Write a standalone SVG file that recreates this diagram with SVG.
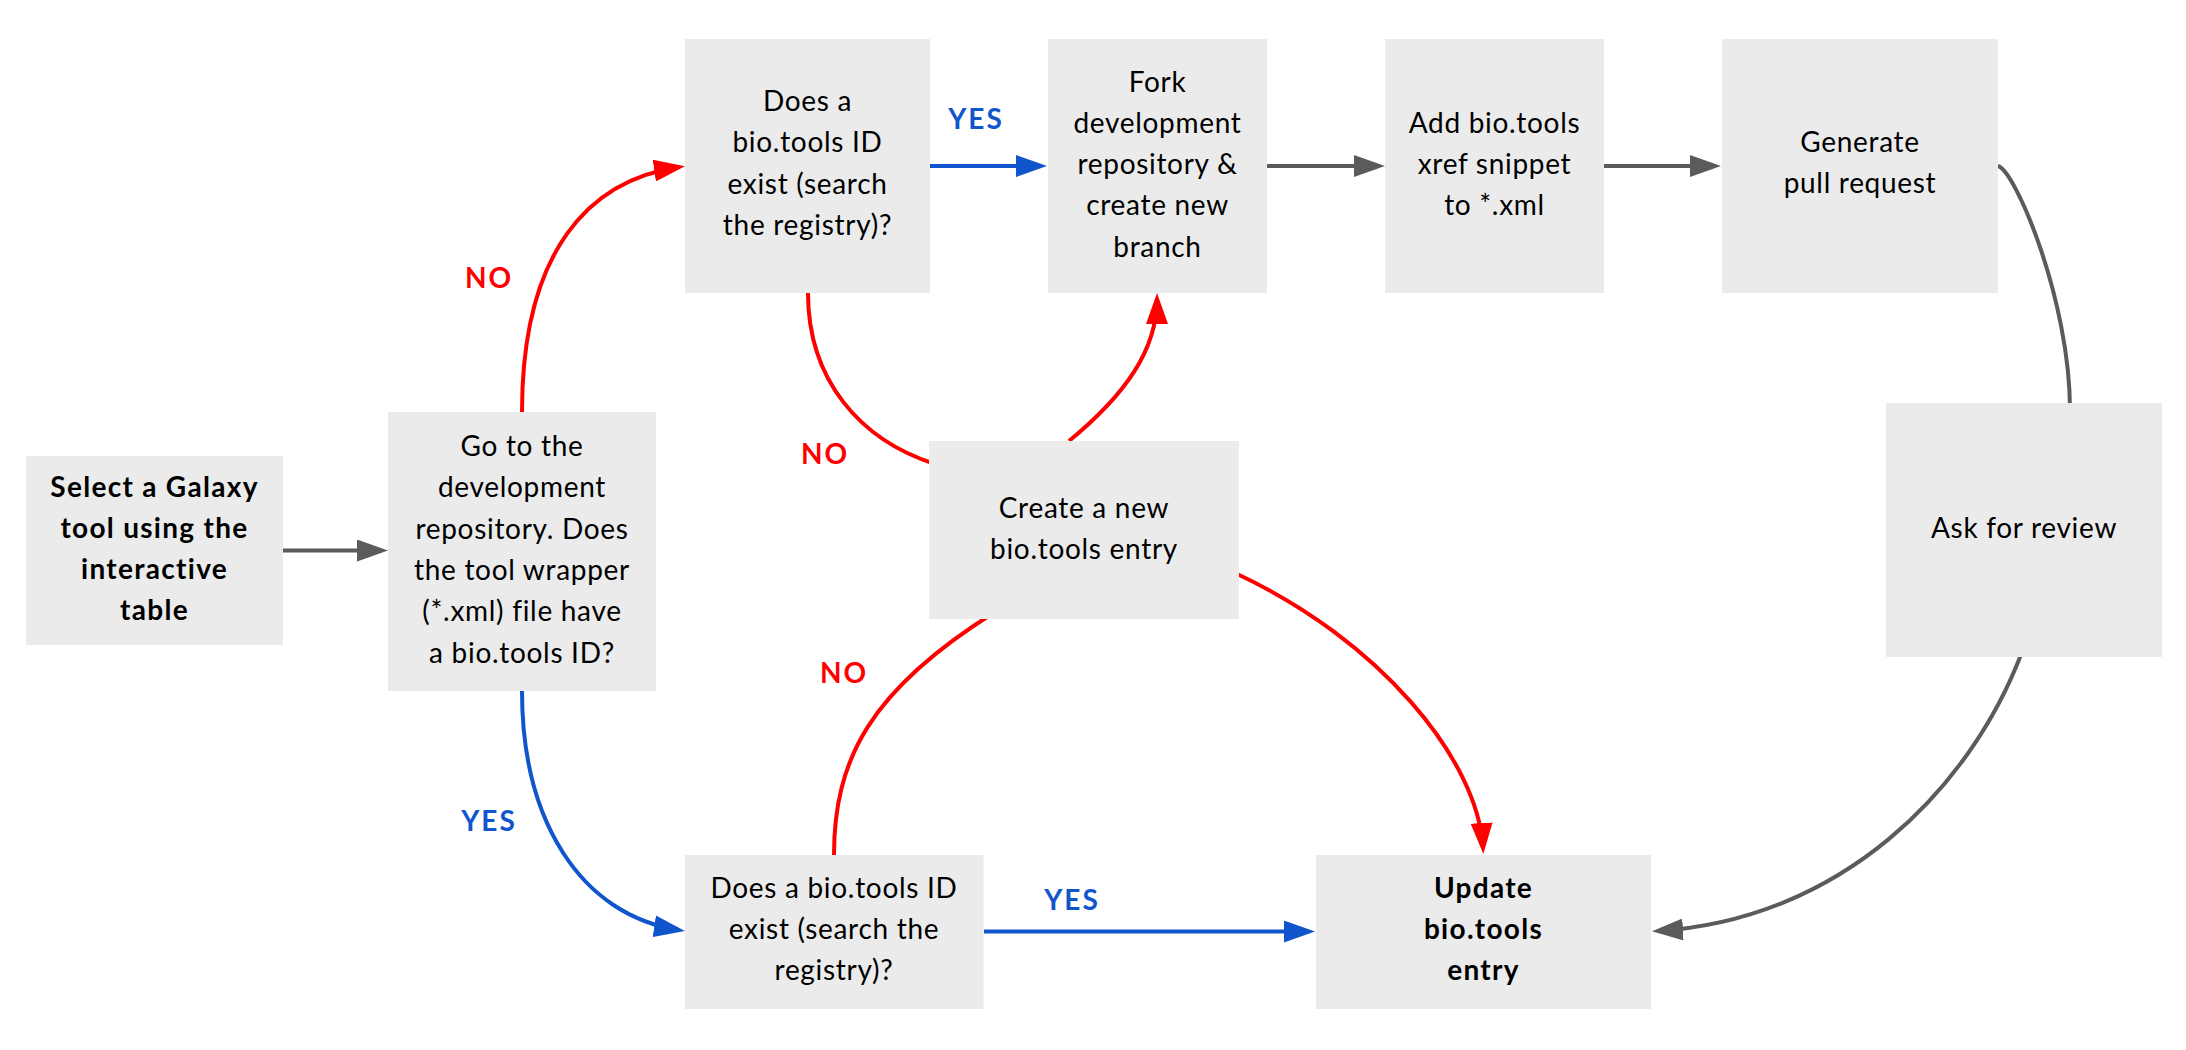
<svg xmlns="http://www.w3.org/2000/svg" width="2186" height="1050" viewBox="0 0 2186 1050">
<style>
.box{fill:#ebebeb}
.t{font-family:Lato,"Open Sans","Liberation Sans",sans-serif;font-size:28px;fill:#000;text-anchor:middle;letter-spacing:0.7px}
.b{font-weight:bold;letter-spacing:1.3px}
.lbl{font-family:Lato,"Open Sans","Liberation Sans",sans-serif;font-size:28px;font-weight:bold;text-anchor:middle;letter-spacing:2px}
.red{fill:#ff0000}
.blue{fill:#1155cc}
.c{fill:none;stroke-width:4}
.cg{stroke:#5b5b5b}
.cr{stroke:#ff0000}
.cb{stroke:#1155cc}
</style>
<defs>
<marker id="ag" viewBox="0 0 31 22" refX="25" refY="11" markerWidth="31" markerHeight="22" markerUnits="userSpaceOnUse" orient="auto"><path d="M0,0 L31,11 L0,22 z" fill="#5b5b5b"/></marker>
<marker id="ar" viewBox="0 0 31 22" refX="25" refY="11" markerWidth="31" markerHeight="22" markerUnits="userSpaceOnUse" orient="auto"><path d="M0,0 L31,11 L0,22 z" fill="#ff0000"/></marker>
<marker id="ab" viewBox="0 0 31 22" refX="25" refY="11" markerWidth="31" markerHeight="22" markerUnits="userSpaceOnUse" orient="auto"><path d="M0,0 L31,11 L0,22 z" fill="#1155cc"/></marker>
</defs>
<rect width="2186" height="1050" fill="#fff"/>
<g id="connectors">
<path class="c cg" d="M283,550.5 H382" marker-end="url(#ag)"/>
<path class="c cb" d="M930,166 H1041" marker-end="url(#ab)"/>
<path class="c cg" d="M1267,166 H1379" marker-end="url(#ag)"/>
<path class="c cg" d="M1604,166 H1715" marker-end="url(#ag)"/>
<path class="c cb" d="M984,931.5 H1309" marker-end="url(#ab)"/>
<path class="c cr" d="M522,412 C522,250 590,180 679,167" marker-end="url(#ar)"/>
<path class="c cb" d="M522,691 C522,820 580,915 679,930" marker-end="url(#ab)"/>
<path class="c cr" d="M808,293 C808,380 860,440 935,464"/>
<path class="c cr" d="M1069,441 C1125,395 1157,350 1157,299" marker-end="url(#ar)"/>
<path class="c cr" d="M834,855 C834,760 870,690 995,612"/>
<path class="c cr" d="M1235,573 C1380,640 1478,760 1483,848" marker-end="url(#ar)"/>
<path class="c cg" d="M1998,166 C2015,170 2070,300 2070,410"/>
<path class="c cg" d="M2022,652 C1970,790 1840,920 1658,931" marker-end="url(#ag)"/>
</g>
<g id="labels">
<text class="lbl red" x="489" y="287.5">NO</text>
<text class="lbl blue" x="976" y="128.5">YES</text>
<text class="lbl red" x="825" y="463.5">NO</text>
<text class="lbl blue" x="489" y="830.5">YES</text>
<text class="lbl red" x="844" y="682.5">NO</text>
<text class="lbl blue" x="1072" y="909.5">YES</text>
</g>
<g id="n-select">
<rect class="box" x="26" y="456" width="257" height="189"/>
<text class="t b" x="154.5"><tspan x="154.5" y="496.5">Select a Galaxy</tspan><tspan x="154.5" y="537.5">tool using the</tspan><tspan x="154.5" y="578.5">interactive</tspan><tspan x="154.5" y="620">table</tspan></text>
</g>
<g id="n-goto">
<rect class="box" x="388" y="412" width="268" height="279"/>
<text class="t" x="522"><tspan x="522" y="456">Go to the</tspan><tspan x="522" y="497.3">development</tspan><tspan x="522" y="538.6">repository. Does</tspan><tspan x="522" y="579.9">the tool wrapper</tspan><tspan x="522" y="621.2">(*.xml) file have</tspan><tspan x="522" y="662.5">a bio.tools ID?</tspan></text>
</g>
<g id="n-does1">
<rect class="box" x="685" y="39" width="245" height="254"/>
<text class="t" x="807.5"><tspan x="807.5" y="111">Does a</tspan><tspan x="807.5" y="152.3">bio.tools ID</tspan><tspan x="807.5" y="193.6">exist (search</tspan><tspan x="807.5" y="234.9">the registry)?</tspan></text>
</g>
<g id="n-fork">
<rect class="box" x="1048" y="39" width="219" height="254"/>
<text class="t" x="1157.5"><tspan x="1157.5" y="91.5">Fork</tspan><tspan x="1157.5" y="132.8">development</tspan><tspan x="1157.5" y="174.1">repository &amp;</tspan><tspan x="1157.5" y="215.4">create new</tspan><tspan x="1157.5" y="256.7">branch</tspan></text>
</g>
<g id="n-add">
<rect class="box" x="1385" y="39" width="219" height="254"/>
<text class="t" x="1494.5"><tspan x="1494.5" y="132.8">Add bio.tools</tspan><tspan x="1494.5" y="174.1">xref snippet</tspan><tspan x="1494.5" y="215.4">to *.xml</tspan></text>
</g>
<g id="n-generate">
<rect class="box" x="1722" y="39" width="276" height="254"/>
<text class="t" x="1860"><tspan x="1860" y="152">Generate</tspan><tspan x="1860" y="193.3">pull request</tspan></text>
</g>
<g id="n-create">
<rect class="box" x="929" y="441" width="310" height="178"/>
<text class="t" x="1084"><tspan x="1084" y="518">Create a new</tspan><tspan x="1084" y="559">bio.tools entry</tspan></text>
</g>
<g id="n-ask">
<rect class="box" x="1886" y="403" width="276" height="254"/>
<text class="t" x="2024" y="538">Ask for review</text>
</g>
<g id="n-does2">
<rect class="box" x="685" y="855" width="298.5" height="154"/>
<text class="t" x="834"><tspan x="834" y="898">Does a bio.tools ID</tspan><tspan x="834" y="939">exist (search the</tspan><tspan x="834" y="980">registry)?</tspan></text>
</g>
<g id="n-update">
<rect class="box" x="1316" y="855" width="335" height="154"/>
<text class="t b" x="1483.5"><tspan x="1483.5" y="898">Update</tspan><tspan x="1483.5" y="939">bio.tools</tspan><tspan x="1483.5" y="980">entry</tspan></text>
</g>
</svg>
